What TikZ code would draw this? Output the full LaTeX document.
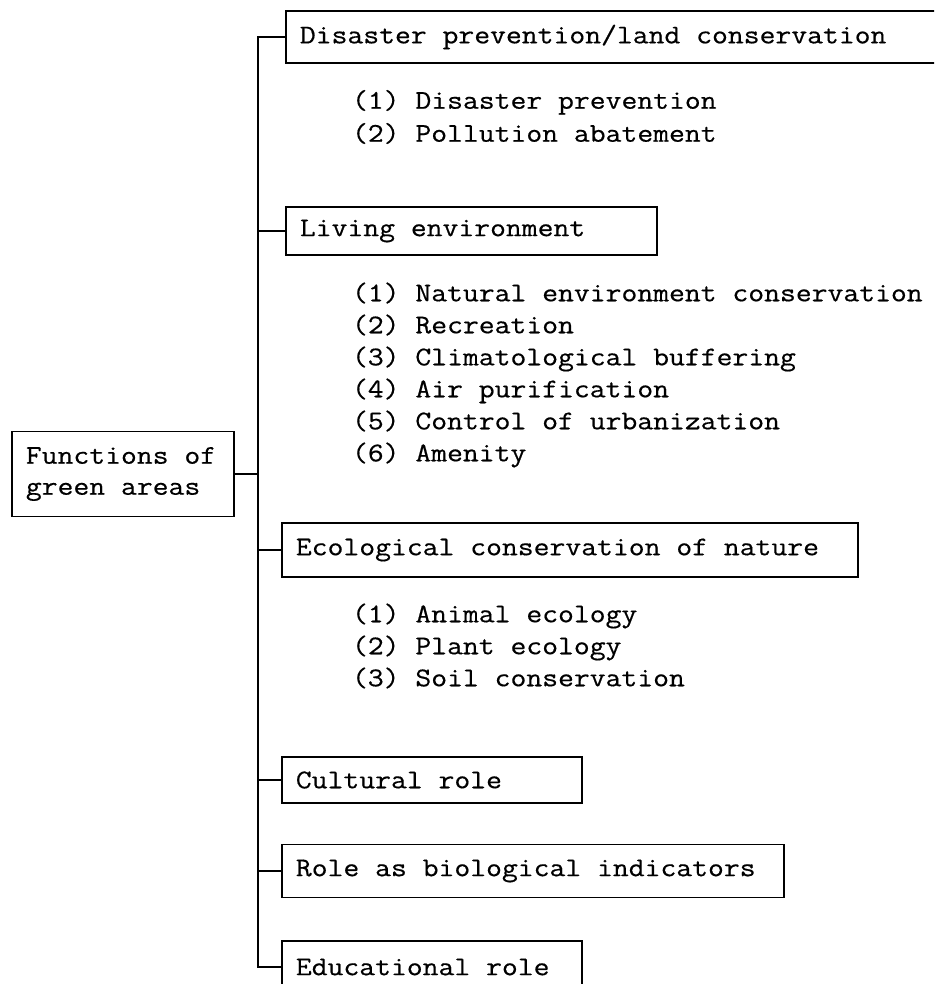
\documentclass[tikz,border=0pt]{standalone}
\usepackage{fontspec}
\setmonofont{Latin Modern Mono}[FakeStretch=1.14, FakeBold=0.5]

\tikzset{
  fbox/.style={draw, line width=0.9pt, anchor=west, inner xsep=7pt, inner ysep=0pt,
    text width=#1, align=flush left, minimum height=25pt},
  flist/.style={anchor=west, inner sep=0pt, align=left},
  every node/.style={font=\fontsize{13.5pt}{16pt}\selectfont\ttfamily}
}

\begin{document}
\begin{tikzpicture}[x=0.5pt, y=-0.5pt, line width=1pt]
\clip (0,0) rectangle (934,984);

\node[fbox=330pt, minimum height=26pt] (dis) at (285,37) {Disaster prevention/land conservation};
\node[flist, font=\fontsize{13.5pt}{16.5pt}\selectfont\ttfamily] (dislist) at (351,117)
  {(1) Disaster prevention\\(2) Pollution abatement};

\node[fbox=171.5pt, minimum height=24pt] (liv) at (285,231) {Living environment};
\node[flist] (livlist) at (351,375)
  {(1) Natural environment conservation\\(2) Recreation\\(3) Climatological buffering\\
   (4) Air purification\\(5) Control of urbanization\\(6) Amenity};

\node[fbox=97pt, minimum height=42.5pt, font=\fontsize{13.5pt}{15.5pt}\selectfont\ttfamily] (root) at (11,474)
  {Functions of\\green areas};

\node[fbox=274pt, minimum height=27pt] (eco) at (281,550) {Ecological conservation of nature};
\node[flist] (ecolist) at (351,646)
  {(1) Animal ecology\\(2) Plant ecology\\(3) Soil conservation};

\node[fbox=136pt, minimum height=23pt] (cult) at (281,780) {Cultural role};
\node[fbox=237pt, minimum height=26.5pt] (bio) at (281,871) {Role as biological indicators};
\node[fbox=136pt, minimum height=26pt] (edu) at (281,967) {Educational role};

% trunk
\coordinate (top) at (258,37);
\coordinate (bot) at (258,967);
\draw (dis.west) -- (top) -- (bot) -- (edu.west);
\foreach \n in {liv,eco,cult,bio}
  \draw (\n.west) -- (\n.west -| top);
\draw (root.east) -- (root.east -| top);
\end{tikzpicture}
\end{document}
